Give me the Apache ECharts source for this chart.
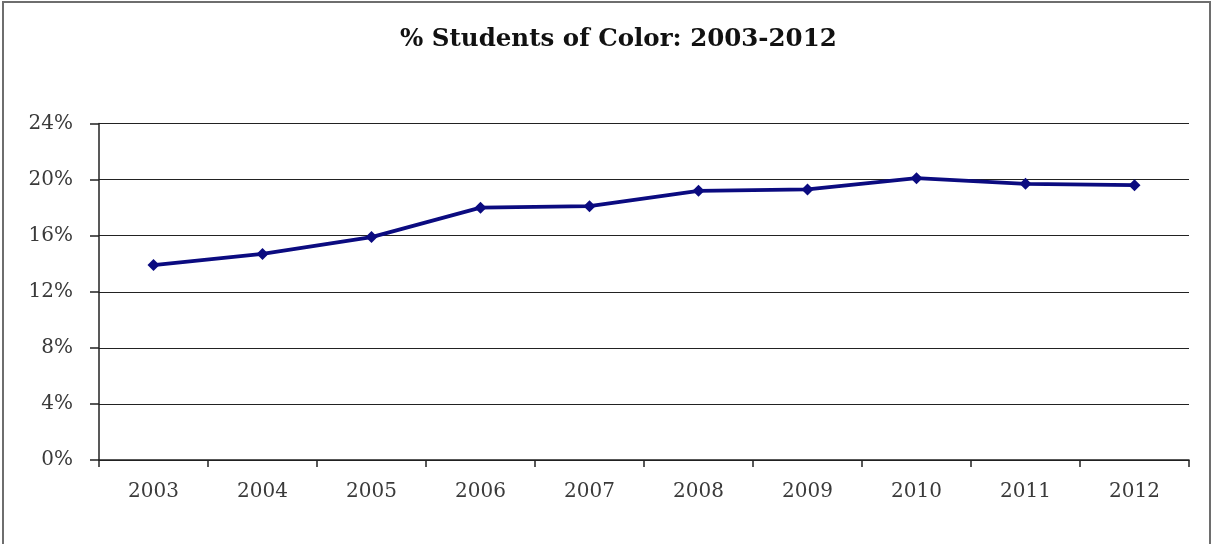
<!DOCTYPE html>
<html>
<head>
<meta charset="utf-8">
<script src="https://cdn.jsdelivr.net/npm/echarts@6/dist/echarts.min.js"></script>
<style>
html,body{margin:0;padding:0;background:#fff;}
#chart{width:1211px;height:544px;}
</style>
</head>
<body>
<div id="chart"></div>
<script>
const titleText = '% Students of Color: 2003-2012';
const years = ['2003','2004','2005','2006','2007','2008','2009','2010','2011','2012'];
const pctStudentsOfColor = [13.9, 14.7, 15.9, 18.0, 18.1, 19.2, 19.3, 20.1, 19.7, 19.6];
const yTicks = {min: 0, max: 24, interval: 4};

const chart = echarts.init(document.getElementById('chart'), null, {renderer: 'canvas'});
const serif = '"DejaVu Serif", "Liberation Serif", serif';
chart.setOption({
  backgroundColor: '#fff',
  animation: false,
  graphic: [{
    type: 'rect',
    shape: {x: 3, y: 2, width: 1207, height: 600},
    style: {fill: 'none', stroke: '#6e6e6e', lineWidth: 2},
    silent: true
  }],
  title: {
    text: titleText,
    left: 400,
    top: 27,
    padding: 0,
    textStyle: {fontFamily: serif, fontSize: 24.5, fontWeight: 'bold', color: '#111'}
  },
  grid: {left: 99, right: 22, top: 123.5, bottom: 84, containLabel: false},
  xAxis: {
    type: 'category',
    data: years,
    boundaryGap: true,
    axisLine: {lineStyle: {color: '#222', width: 1.5}},
    axisTick: {show: true, length: 7, lineStyle: {color: '#222', width: 1.5}},
    axisLabel: {fontFamily: serif, fontSize: 20, color: '#3a3a3a', margin: 22}
  },
  yAxis: {
    type: 'value',
    min: yTicks.min, max: yTicks.max, interval: yTicks.interval,
    axisLine: {show: true, lineStyle: {color: '#222', width: 1.5}},
    axisTick: {show: true, length: 9, lineStyle: {color: '#222', width: 1.5}},
    axisLabel: {formatter: '{value}%', fontFamily: serif, fontSize: 20, color: '#3a3a3a', margin: 26},
    splitLine: {show: true, lineStyle: {color: '#222', width: 1.2}}
  },
  series: [{
    type: 'line',
    data: pctStudentsOfColor,
    symbol: 'diamond',
    symbolSize: 12,
    lineStyle: {color: '#0b0b80', width: 3.8},
    itemStyle: {color: '#0b0b80'}
  }]
});
</script>
</body>
</html>
